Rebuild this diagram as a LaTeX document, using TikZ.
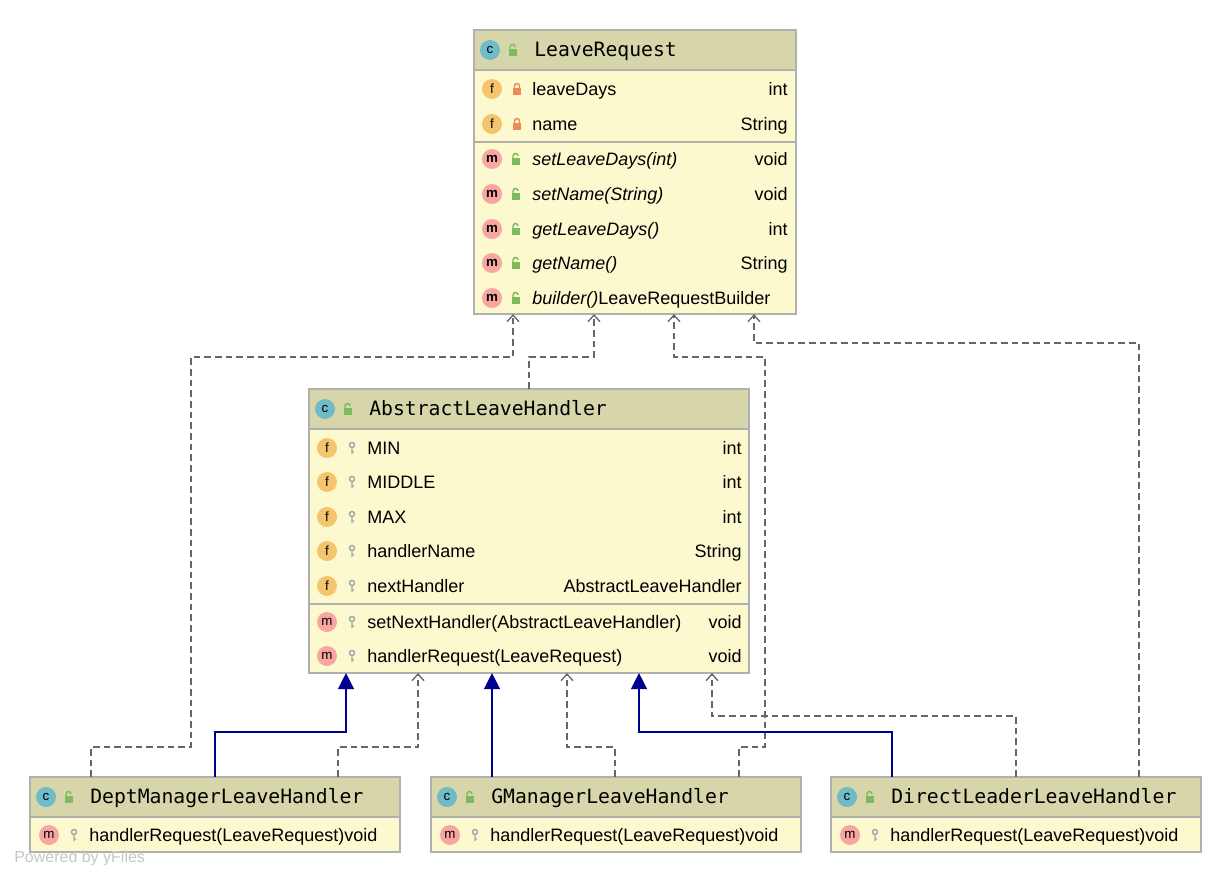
\documentclass[tikz,border=0pt]{standalone}
\usepackage{fontspec}
\setmainfont{Liberation Sans}
\newfontfamily\monof{DejaVu Sans Mono}
\usetikzlibrary{arrows.meta}
\definecolor{hdr}{HTML}{D7D6AA}
\definecolor{bdy}{HTML}{FCF9CF}
\definecolor{brd}{HTML}{B0B0B0}
\definecolor{icC}{HTML}{6FBCC8}
\definecolor{icF}{HTML}{F4C56E}
\definecolor{icM}{HTML}{F7A6A2}
\definecolor{lkG}{HTML}{7DBB5E}
\definecolor{lkO}{HTML}{EE8A55}
\definecolor{lkK}{HTML}{A0A8A8}
\definecolor{dep}{HTML}{666666}
\definecolor{inh}{HTML}{000090}
\tikzset{
 box/.style={draw=brd,fill=bdy,line width=0.8pt,inner sep=0pt},
 title/.style={anchor=base west,font=\monof\fontsize{14.8}{16}\selectfont,inner sep=0pt},
 txt/.style={anchor=base west,font=\fontsize{13.5}{15}\selectfont,inner sep=0pt},
 typ/.style={anchor=base east,font=\fontsize{13.5}{15}\selectfont,inner sep=0pt},
 depl/.style={draw=dep,line width=1pt,dash pattern=on 5pt off 3pt,-{Straight Barb[length=5pt,width=9pt]}},
 inhl/.style={draw=inh,line width=1pt,-{Triangle[length=12pt,width=12pt,fill=inh]}},
 ic/.style={circle,minimum size=15pt,inner sep=0pt,font=\fontsize{10}{10}\selectfont}
}
\newcommand\Ic[4]{\node[ic,fill=#3] at (#1,#2) {#4};}
\newcommand\Pub[2]{\fill[lkG] (#1-4,#2-1) rectangle (#1+4,#2+6); \draw[lkG,line width=1.1pt] (#1-3,#2-1) -- (#1-3,#2-3) arc(180:360:2.5);}
\newcommand\Pri[2]{\fill[lkO] (#1-4,#2-1) rectangle (#1+4,#2+6); \draw[lkO,line width=1.1pt] (#1-2.5,#2-1) -- (#1-2.5,#2-3) arc(180:360:2.5) -- (#1+2.5,#2-1);}
\newcommand\Pkg[2]{\draw[lkK,line width=1.1pt] (#1,#2-3) circle (2.5) (#1,#2-0.5) -- (#1,#2+6) (#1,#2+4)--(#1+2,#2+4);}
\begin{document}
\begin{tikzpicture}[x=0.75pt,y=-0.75pt]
\useasboundingbox (0,0) rectangle (1231,882);
% LeaveRequest
\node[box,minimum width=321*0.75pt,minimum height=283*0.75pt,anchor=north west] (lr) at (474,30) {};
\fill[hdr] (474.5,30.5) rectangle (794.5,70);
\draw[brd,line width=0.8pt] (474,70) -- (795,70) (474,142) -- (795,142);
\draw[brd,line width=0.8pt] (lr.north west) rectangle (lr.south east);
\Ic{490}{50}{icC}{c}\Pub{513}{50}
\node[title] at (534,56) {LeaveRequest};
\Ic{492}{89}{icF}{f}\Pri{517}{89}\node[txt] at (532,95){leaveDays};\node[typ] at (788,95){int};
\Ic{492}{124}{icF}{f}\Pri{517}{124}\node[txt] at (532,130){name};\node[typ] at (788,130){String};
\foreach \y/\n/\t in {159/setLeaveDays(int)/void,194/setName(String)/void,229/getLeaveDays()/int,263/getName()/String}{
 \Ic{492}{\y}{icM}{\textbf{m}}\Pub{516}{\y}\node[txt] at (532,\y+6){\textit{\n}};\node[typ] at (788,\y+6){\t};}
\Ic{492}{298}{icM}{\textbf{m}}\Pub{516}{298}\node[txt] at (532,304){\textit{builder()}LeaveRequestBuilder};
% Abstract
\node[box,minimum width=439*0.75pt,minimum height=283*0.75pt,anchor=north west] (ab) at (309,389) {};
\fill[hdr] (309.5,389.5) rectangle (747.5,429);
\draw[brd,line width=0.8pt] (309,429) -- (748,429) (309,604) -- (748,604);
\draw[brd,line width=0.8pt] (ab.north west) rectangle (ab.south east);
\Ic{325}{409}{icC}{c}\Pub{348}{409}
\node[title] at (369,415) {AbstractLeaveHandler};
\foreach \y/\n/\t in {448/MIN/int,482/MIDDLE/int,517/MAX/int,551/handlerName/String,586/nextHandler/AbstractLeaveHandler}{
 \Ic{327}{\y}{icF}{f}\Pkg{352}{\y}\node[txt] at (367,\y+6){\n};\node[typ] at (742,\y+6){\t};}
\Ic{327}{622}{icM}{m}\Pkg{352}{622}\node[txt] at (367,628){setNextHandler(AbstractLeaveHandler)};\node[typ] at (742,628){void};
\Ic{327}{656}{icM}{m}\Pkg{352}{656}\node[txt] at (367,662){handlerRequest(LeaveRequest)};\node[typ] at (742,662){void};
% bottom classes
\foreach \nm/\x/\lab in {dm/30/DeptManagerLeaveHandler,gm/431/GManagerLeaveHandler,dl/831/DirectLeaderLeaveHandler}{
 \node[box,minimum width=369*0.75pt,minimum height=74*0.75pt,anchor=north west] (\nm) at (\x,777) {};
 \fill[hdr] (\x+0.5,777.5) rectangle (\x+368.5,817);
 \draw[brd,line width=0.8pt] (\x,817) -- (\x+369,817);
 \draw[brd,line width=0.8pt] (\nm.north west) rectangle (\nm.south east);
 \Ic{\x+16}{797}{icC}{c}\Pub{\x+39}{797}
 \node[title] at (\x+60,803) {\lab};
 \Ic{\x+19}{835}{icM}{m}\Pkg{\x+44}{835}
 \node[txt] at (\x+59,841){handlerRequest(LeaveRequest)void};
}
\node[anchor=west,inner sep=0pt,text=black!22,font=\fontsize{12}{12}\selectfont] (pw) at (14,858) {Powered by yFiles};
% dependency connectors
\coordinate (a1) at (91,747);\coordinate (a2) at (191,747);\coordinate (a3) at (191,357);\coordinate (a4) at (513,357);
\draw[depl] (dm.north -| a1) -- (a1) -- (a2) -- (a3) -- (a4) -- (lr.south -| a4);
\coordinate (b1) at (529,357);\coordinate (b2) at (594,357);
\draw[depl] (ab.north -| b1) -- (b1) -- (b2) -- (lr.south -| b2);
\coordinate (c1) at (739,747);\coordinate (c2) at (765,747);\coordinate (c3) at (765,357);\coordinate (c4) at (674,357);
\draw[depl] (gm.north -| c1) -- (c1) -- (c2) -- (c3) -- (c4) -- (lr.south -| c4);
\coordinate (d1) at (1139,343);\coordinate (d2) at (754,343);
\draw[depl] (dl.north -| d1) -- (d1) -- (d2) -- (lr.south -| d2);
\coordinate (e1) at (338,747);\coordinate (e2) at (418,747);
\draw[depl] (dm.north -| e1) -- (e1) -- (e2) -- (ab.south -| e2);
\coordinate (f1) at (615,747);\coordinate (f2) at (567,747);
\draw[depl] (gm.north -| f1) -- (f1) -- (f2) -- (ab.south -| f2);
\coordinate (g1) at (1016,716);\coordinate (g2) at (712,716);
\draw[depl] (dl.north -| g1) -- (g1) -- (g2) -- (ab.south -| g2);
% inheritance
\coordinate (h1) at (215,732);\coordinate (h2) at (346,732);
\draw[inhl] (dm.north -| h1) -- (h1) -- (h2) -- (ab.south -| h2);
\coordinate (i1) at (492,732);
\draw[inhl] (gm.north -| i1) -- (ab.south -| i1);
\coordinate (j1) at (892,732);\coordinate (j2) at (639,732);
\draw[inhl] (dl.north -| j1) -- (j1) -- (j2) -- (ab.south -| j2);
\end{tikzpicture}
\end{document}
